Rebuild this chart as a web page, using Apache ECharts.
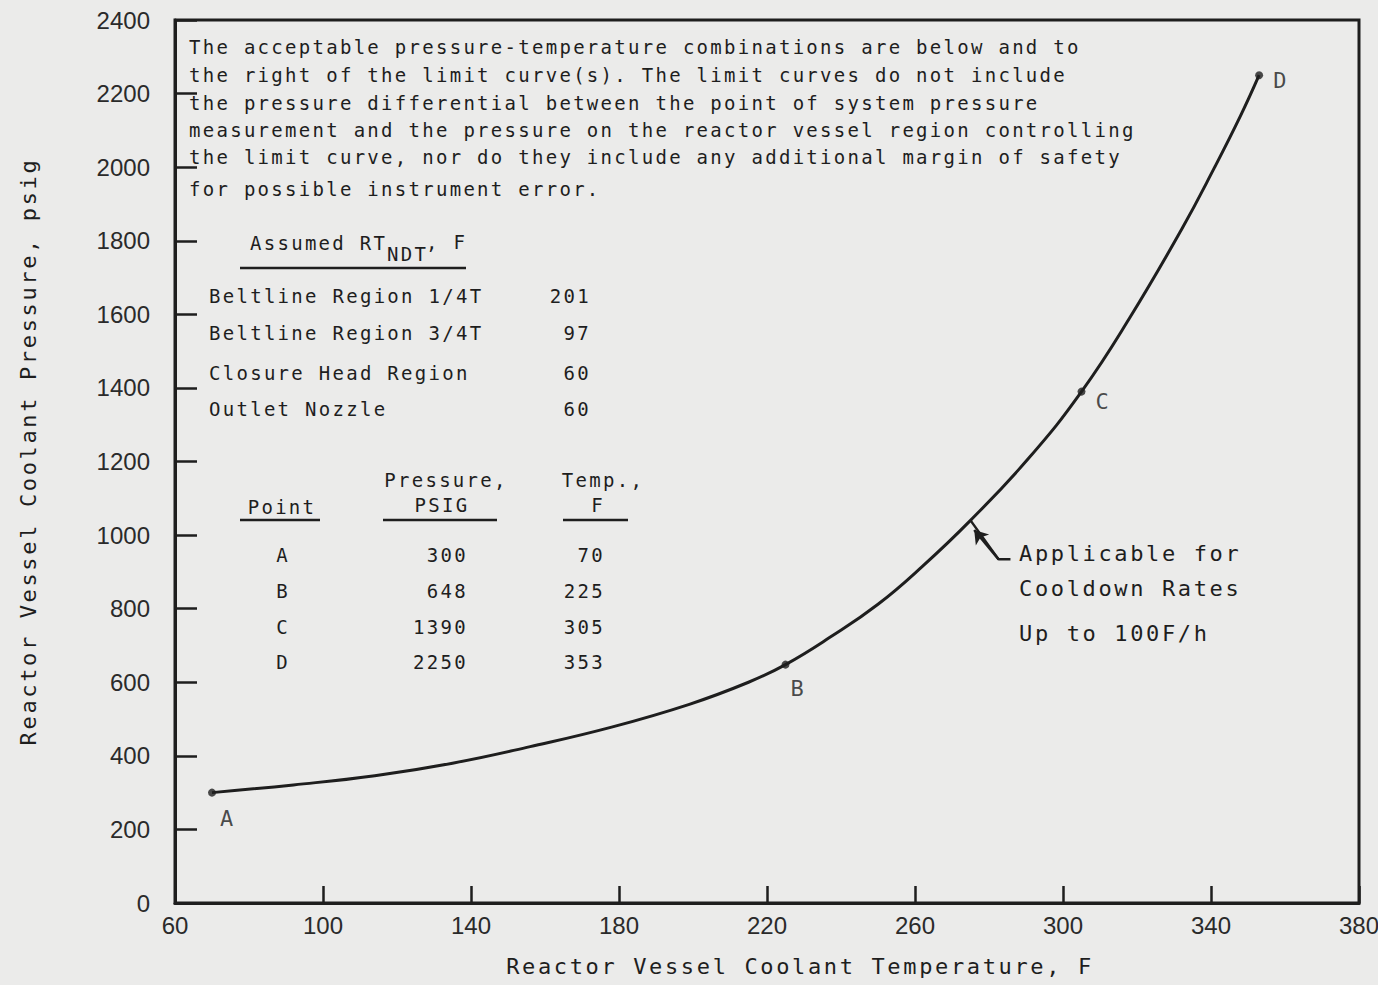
<!DOCTYPE html>
<html>
<head>
<meta charset="utf-8">
<title>Reactor Vessel Cooldown Limit Curve</title>
<script src="https://cdn.jsdelivr.net/npm/echarts@6/dist/echarts.min.js"></script>
<style>
  html, body { margin: 0; padding: 0; background: #ebebea; }
  #chart { width: 1378px; height: 985px; }
  /* typewriter-style spacing for the lettering */
  #chart text[style*="Mono"] { letter-spacing: 0.12em; }
</style>
</head>
<body>
<div id="chart"></div>
<script>
// Limit curve: reactor coolant temperature (F) vs pressure (psig)
const curveTemp     = [70, 92, 114, 135, 156, 178, 199, 215, 225, 237, 250, 262, 275, 291, 305, 318, 332, 341, 348, 353];
const curvePressure = [300, 321, 346, 380, 425, 478, 540, 600, 648, 722, 812, 915, 1040, 1212, 1390, 1590, 1830, 2000, 2140, 2250];

// Labelled points on the curve
const pointNames    = ['A', 'B', 'C', 'D'];
const pointPressure = [300, 648, 1390, 2250];
const pointTemp     = [70, 225, 305, 353];

// Assumed RT_NDT table
const rtRegions = ['Beltline Region 1/4T', 'Beltline Region 3/4T', 'Closure Head Region', 'Outlet Nozzle'];
const rtValues  = ['201', '97', '60', '60'];

// Axis ranges
const tempMin = 60, tempMax = 380, tempStep = 40;
const pressMin = 0, pressMax = 2400, pressStep = 200;

const noteLines = [
  'The acceptable pressure-temperature combinations are below and to',
  'the right of the limit curve(s). The limit curves do not include',
  'the pressure differential between the point of system pressure',
  'measurement and the pressure on the reactor vessel region controlling',
  'the limit curve, nor do they include any additional margin of safety',
  'for possible instrument error.'
];
const calloutLines = ['Applicable for', 'Cooldown Rates', 'Up to 100F/h'];
const calloutIndex = curveTemp.indexOf(275);

const INK = '#1e1e1e';
const MONO = 'DejaVu Sans Mono';
const NUM = "'Liberation Sans', 'Roboto', sans-serif";

function txt(x, y, text, opts) {
  opts = opts || {};
  return {
    type: 'text', x: x, y: y, silent: true,
    style: {
      text: text,
      fill: INK,
      fontFamily: MONO,
      fontSize: opts.size || 19,
      align: opts.align || 'left',
      verticalAlign: 'middle'
    }
  };
}
function rule(x1, x2, y) {
  return { type: 'line', silent: true, shape: { x1: x1, y1: y, x2: x2, y2: y },
           style: { stroke: INK, lineWidth: 2.5 } };
}

const graphics = [];
// note block
const noteY = [47, 75, 103, 130, 157, 189];
noteLines.forEach((l, i) => graphics.push(txt(189, noteY[i], l)));

// RT_NDT table
graphics.push(txt(250, 243, 'Assumed RT'));
graphics.push(txt(387, 254, 'NDT'));
graphics.push(txt(426, 242, ', F'));
graphics.push(rule(240, 466, 268));
const rtY = [296, 333, 373, 409];
rtRegions.forEach((r, i) => {
  graphics.push(txt(209, rtY[i], r));
  graphics.push(txt(591, rtY[i], rtValues[i], { align: 'right' }));
});

// point table
graphics.push(txt(282, 507, 'Point', { align: 'center' }));
graphics.push(txt(446, 480, 'Pressure,', { align: 'center' }));
graphics.push(txt(442, 505, 'PSIG', { align: 'center' }));
graphics.push(txt(603, 480, 'Temp.,', { align: 'center' }));
graphics.push(txt(598, 505, 'F', { align: 'center' }));
graphics.push(rule(240, 320, 520));
graphics.push(rule(383, 497, 520));
graphics.push(rule(563, 628, 520));
const ptY = [555, 591, 627, 662];
pointNames.forEach((n, i) => {
  graphics.push(txt(283, ptY[i], n, { align: 'center' }));
  graphics.push(txt(468, ptY[i], String(pointPressure[i]), { align: 'right' }));
  graphics.push(txt(605, ptY[i], String(pointTemp[i]), { align: 'right' }));
});

// callout text
const calloutY = [553, 588, 633];
calloutLines.forEach((l, i) => graphics.push(txt(1019, calloutY[i], l, { size: 22 })));

const chart = echarts.init(document.getElementById('chart'), null, { renderer: 'svg' });

const anchor = [curveTemp[calloutIndex], curvePressure[calloutIndex]];
const elbow = [anchor[0] + 7.6, anchor[1] - 106];
const leaderEnd = [elbow[0] + 3.2, elbow[1]];
const arrowTip = [anchor[0] + 1.0, anchor[1] - 26];

chart.setOption({
  backgroundColor: '#ebebea',
  animation: false,
  grid: {
    left: 175, right: 19, top: 20, bottom: 82,
    show: true, borderColor: INK, borderWidth: 3,
    containLabel: false, outerBoundsMode: 'none'
  },
  xAxis: {
    type: 'value', min: tempMin, max: tempMax, interval: tempStep,
    name: 'Reactor Vessel Coolant Temperature, F',
    nameLocation: 'middle', nameGap: 52,
    nameTextStyle: { fontFamily: MONO, fontSize: 22, color: INK, padding: [0, 0, 0, 66] },
    axisLine: { show: true, onZero: false, lineStyle: { color: INK, width: 3 } },
    axisTick: { show: true, inside: true, length: 17, lineStyle: { color: INK, width: 2.5 } },
    axisLabel: { fontFamily: NUM, fontSize: 24, color: '#2a2a2a', margin: 10,
                 showMinLabel: true, showMaxLabel: true, formatter: v => String(v) },
    splitLine: { show: false }
  },
  yAxis: {
    type: 'value', min: pressMin, max: pressMax, interval: pressStep,
    name: 'Reactor Vessel Coolant Pressure, psig',
    nameLocation: 'middle', nameGap: 136, nameRotate: 90,
    nameTextStyle: { fontFamily: MONO, fontSize: 22, color: INK, padding: [0, 0, 0, 20] },
    axisLine: { show: true, onZero: false, lineStyle: { color: INK, width: 3 } },
    axisTick: { show: true, inside: true, length: 22, lineStyle: { color: INK, width: 2.5 } },
    axisLabel: { fontFamily: NUM, fontSize: 24, color: '#2a2a2a', margin: 25,
                 showMinLabel: true, showMaxLabel: true, formatter: v => String(v) },
    splitLine: { show: false }
  },
  series: [
    {
      name: 'Limit curve',
      type: 'line',
      data: curveTemp.map((t, i) => [t, curvePressure[i]]),
      smooth: 0.45,
      showSymbol: false,
      lineStyle: { color: INK, width: 3 },
      silent: true,
      z: 3
    },
    {
      name: 'Points',
      type: 'scatter',
      data: pointTemp.map((t, i) => ({ value: [t, pointPressure[i]], name: pointNames[i] })),
      symbol: 'circle',
      symbolSize: 8,
      itemStyle: { color: INK },
      label: {
        show: true,
        formatter: p => p.name,
        fontFamily: MONO, fontSize: 22, color: INK,
        position: 'inside'
      },
      labelLayout: function (p) {
        const off = { A: [16, 26], B: [13, 24], C: [22, 10], D: [22, 5] }[pointNames[p.dataIndex]];
        return { dx: off[0], dy: off[1] };
      },
      silent: true,
      z: 4
    },
    {
      name: 'Callout leader',
      type: 'line',
      data: [leaderEnd, elbow, anchor],
      showSymbol: false,
      lineStyle: { color: INK, width: 2.5 },
      silent: true,
      z: 3,
      markLine: {
        silent: true,
        symbol: ['none', 'arrow'],
        symbolSize: 13,
        label: { show: false },
        lineStyle: { color: INK, width: 2.5, type: 'solid' },
        data: [[{ coord: elbow }, { coord: arrowTip }]]
      }
    }
  ],
  graphic: graphics
});
</script>
</body>
</html>
